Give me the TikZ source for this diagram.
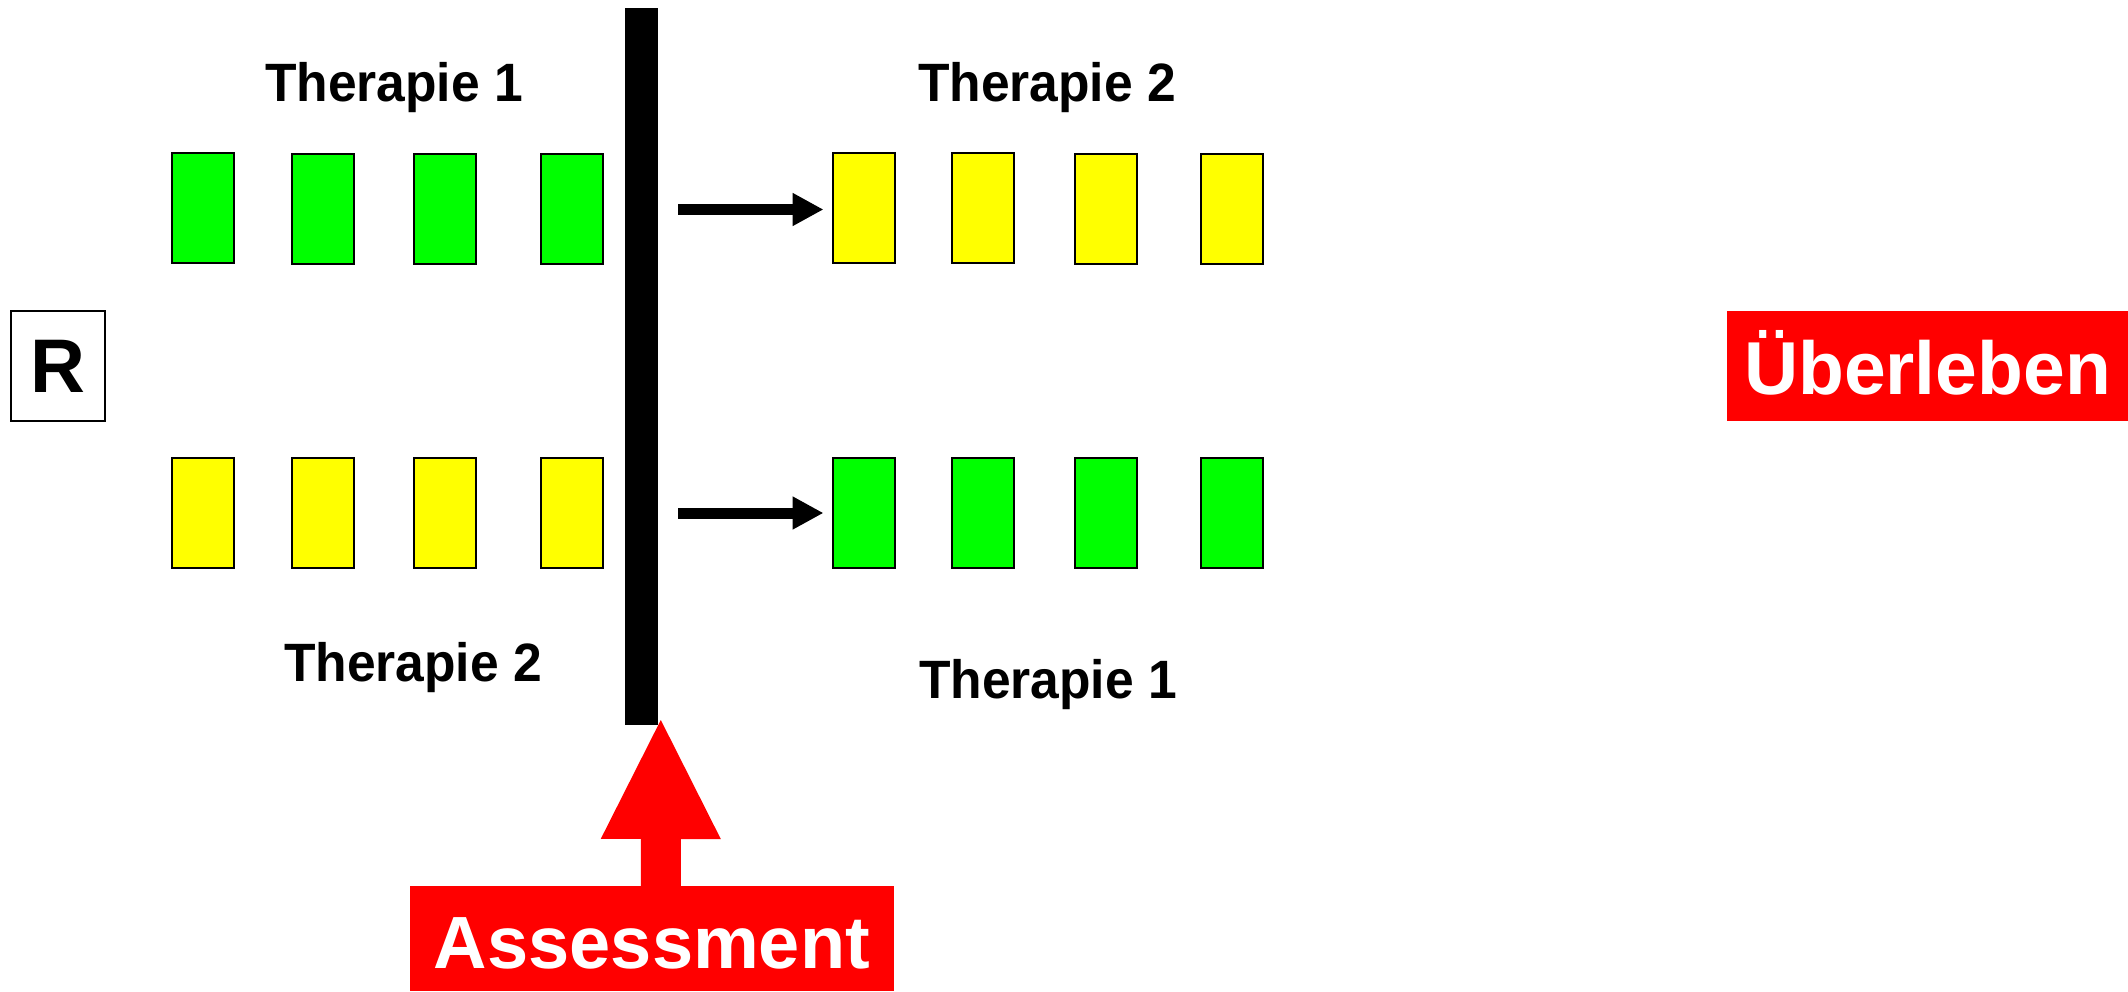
\documentclass[tikz,border=0pt]{standalone}
\usepackage{fontspec}
\setmainfont{Liberation Sans}
\newfontfamily\thfont{Liberation Sans}[FakeStretch=0.955]
\usetikzlibrary{arrows.meta}
\definecolor{cgreen}{RGB}{0,255,0}
\definecolor{cyellow}{RGB}{255,255,0}
\definecolor{cred}{RGB}{255,0,0}
\begin{document}
\begin{tikzpicture}[x=1pt,y=-1pt,
  cell/.style={draw=black, line width=2pt, minimum width=62pt, minimum height=110pt, inner sep=0pt},
  gcell/.style={cell, fill=cgreen},
  ycell/.style={cell, fill=cyellow},
  lbl/.style={font=\thfont\bfseries\fontsize{54}{60}\selectfont, anchor=base, inner sep=0pt},
  blackarrow/.style={draw=black, line width=11pt, -{Triangle[length=31pt,width=31pt]}, shorten >=8pt},
  redbox/.style={fill=cred, text=white, inner sep=0pt, text depth=0pt}
]
\useasboundingbox (0,0) rectangle (2128,991);

% R box
\node[draw=black, line width=2pt, minimum width=94pt, minimum height=110pt, inner sep=0pt,
      font=\bfseries\fontsize{76}{80}\selectfont] (R) at (58,366) {R};

% left cells
\node[gcell] (lt1) at (203,208) {};
\node[gcell] (lt2) at (322.5,209) {};
\node[gcell] (lt3) at (445,209) {};
\node[gcell] (lt4) at (572,209) {};
\node[ycell] (lb1) at (203,512.5) {};
\node[ycell] (lb2) at (322.5,512.5) {};
\node[ycell] (lb3) at (445,512.5) {};
\node[ycell] (lb4) at (572,512.5) {};

% right cells
\node[ycell] (rt1) at (863.5,208) {};
\node[ycell] (rt2) at (982.5,208) {};
\node[ycell] (rt3) at (1105.5,209) {};
\node[ycell] (rt4) at (1232,209) {};
\node[gcell] (rb1) at (863.5,512.5) {};
\node[gcell] (rb2) at (982.5,512.5) {};
\node[gcell] (rb3) at (1105.5,512.5) {};
\node[gcell] (rb4) at (1232,512.5) {};

% labels
\node[lbl] (t1a) at (394,101) {Therapie 1};
\node[lbl] (t2a) at (1047,101) {Therapie 2};
\node[lbl] (t2b) at (413,681.5) {Therapie 2};
\node[lbl] (t1b) at (1048,698) {Therapie 1};

% bar
\node[fill=black, minimum width=33pt, minimum height=717pt, inner sep=0pt] (bar) at (641.5,366.3) {};

% black arrows
\coordinate (s1) at (678,209.5);
\coordinate (s2) at (678,513);
\draw[blackarrow] (s1) -- (s1 -| rt1.west);
\draw[blackarrow] (s2) -- (s2 -| rb1.west);

% Assessment
\node[redbox, minimum width=484pt, minimum height=105pt, text height=59pt,
      font=\bfseries\fontsize{74}{80}\selectfont] (assess) at (652,938.5) {Assessment};
\coordinate (tipR) at (660.8,720);
\fill[cred] (tipR) -- ++(60,119) -- ++(-40,0) -- (assess.north -| 680.8,0)
            -- (assess.north -| 640.8,0) -- ++(0,-47) -- ++(-40,0) -- cycle;

% Ueberleben
\node[redbox, minimum width=401pt, minimum height=110pt, text height=56pt,
      font=\bfseries\fontsize{75}{80}\selectfont] (surv) at (1927.5,366) {Überleben};
\end{tikzpicture}
\end{document}
